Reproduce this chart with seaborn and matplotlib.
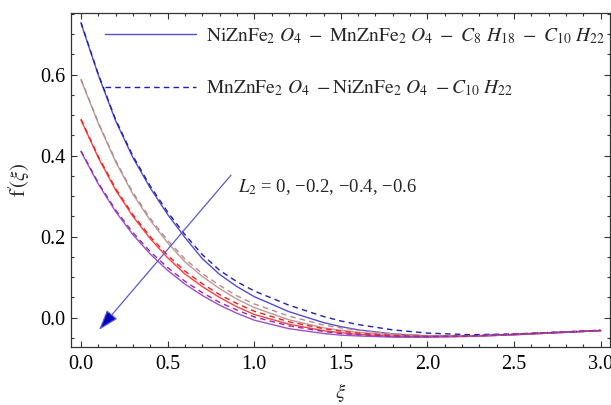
import numpy as np
import pandas as pd
import matplotlib
matplotlib.use("Agg")
import matplotlib.pyplot as plt
from matplotlib.ticker import MultipleLocator, FormatStrFormatter
import seaborn as sns

# ---------------- data ----------------
xi = [0.0, 0.1, 0.2, 0.3, 0.4, 0.5, 0.6, 0.7, 0.8, 0.9, 1.0,
      1.2, 1.4, 1.5, 1.6, 1.8, 2.0, 2.25, 2.5, 2.75, 3.0]

L2_values = ["0", "-0.2", "-0.4", "-0.6"]

# solid: NiZnFe2O4 - MnZnFe2O4 - C8H18 - C10H22
solid_L0 = [0.727, 0.599, 0.486, 0.395, 0.320, 0.255, 0.198, 0.146, 0.107, 0.077, 0.052,
            0.015, -0.012, -0.022, -0.030, -0.040, -0.045, -0.045, -0.041, -0.036, -0.032]
solid_L1 = [0.587, 0.480, 0.385, 0.305, 0.240, 0.185, 0.138, 0.102, 0.072, 0.046, 0.025,
            -0.005, -0.025, -0.031, -0.036, -0.043, -0.046, -0.046, -0.042, -0.037, -0.032]
solid_L2 = [0.488, 0.395, 0.315, 0.250, 0.195, 0.148, 0.108, 0.077, 0.050, 0.027, 0.008,
            -0.016, -0.032, -0.037, -0.041, -0.046, -0.047, -0.046, -0.042, -0.037, -0.032]
solid_L3 = [0.410, 0.330, 0.262, 0.205, 0.157, 0.117, 0.083, 0.055, 0.031, 0.011, -0.006,
            -0.027, -0.039, -0.043, -0.045, -0.048, -0.048, -0.046, -0.042, -0.037, -0.032]

# dashed: MnZnFe2O4 - NiZnFe2O4 - C10H22
dash_L0 = [0.729, 0.601, 0.489, 0.399, 0.325, 0.261, 0.205, 0.156, 0.117, 0.089, 0.066,
           0.031, 0.003, -0.008, -0.017, -0.030, -0.038, -0.042, -0.040, -0.036, -0.031]
dash_L1 = [0.589, 0.482, 0.388, 0.309, 0.245, 0.191, 0.145, 0.109, 0.080, 0.054, 0.034,
           0.004, -0.018, -0.025, -0.031, -0.040, -0.044, -0.045, -0.041, -0.036, -0.031]
dash_L2 = [0.490, 0.398, 0.319, 0.254, 0.200, 0.154, 0.115, 0.084, 0.057, 0.035, 0.016,
           -0.010, -0.027, -0.033, -0.038, -0.044, -0.046, -0.045, -0.041, -0.036, -0.031]
dash_L3 = [0.412, 0.333, 0.266, 0.210, 0.163, 0.124, 0.090, 0.062, 0.038, 0.019, 0.002,
           -0.020, -0.034, -0.039, -0.042, -0.046, -0.047, -0.045, -0.041, -0.036, -0.031]

x_ticks = [0.0, 0.5, 1.0, 1.5, 2.0, 2.5, 3.0]
y_ticks = [0.0, 0.2, 0.4, 0.6]

legend_labels = [
    r"$\mathrm{NiZnFe_2}\ O_4\ -\ \mathrm{MnZnFe_2}\ O_4\ -\ C_8\ H_{18}\ -\ C_{10}\ H_{22}$",
    r"$\mathrm{MnZnFe_2}\ O_4\ -\mathrm{NiZnFe_2}\ O_4\ -C_{10}\ H_{22}$",
]
annotation_text = "$L_2$ = 0, \u22120.2, \u22120.4, \u22120.6"

# ---------------- styling ----------------
sns.set_style("ticks")
plt.rcParams["font.family"] = ["Liberation Serif", "DejaVu Serif"]
plt.rcParams["mathtext.fontset"] = "stix"

solid_colors = ["#5050d0", "#c09898", "#ff4040", "#a050c0"]
dash_colors = ["#2020b0", "#b88a8a", "#f02020", "#8a30b0"]

fig = plt.figure(figsize=(6.11, 4.05), dpi=100)
ax = fig.add_axes([0.1157, 0.1432, 0.8827, 0.8240])

solids = [solid_L0, solid_L1, solid_L2, solid_L3]
dashes = [dash_L0, dash_L1, dash_L2, dash_L3]

for i in range(4):
    sns.lineplot(x=xi, y=solids[i], ax=ax, color=solid_colors[i], lw=1.0)
for i in range(4):
    sns.lineplot(x=xi, y=dashes[i], ax=ax, color=dash_colors[i], lw=1.0,
                 linestyle=(0, (4, 3)))

ax.set_xlim(-0.0595, 3.054)
ax.set_ylim(-0.0723, 0.7516)

ax.xaxis.set_major_locator(plt.FixedLocator(x_ticks))
ax.yaxis.set_major_locator(plt.FixedLocator(y_ticks))
ax.xaxis.set_minor_locator(MultipleLocator(0.1))
ax.yaxis.set_minor_locator(MultipleLocator(0.05))
ax.xaxis.set_major_formatter(FormatStrFormatter("%.1f"))
ax.yaxis.set_major_formatter(FormatStrFormatter("%.1f"))

for s in ax.spines.values():
    s.set_visible(True)
    s.set_color("#333333")
    s.set_linewidth(0.9)

ax.tick_params(which="both", direction="in", top=True, right=True, colors="#333333",
               labelcolor="black", labelsize=14.5, width=0.8)
ax.tick_params(which="major", length=4.5)
ax.tick_params(which="minor", length=2.5)
ax.tick_params(axis="x", pad=6)
ax.tick_params(axis="y", pad=4)

ax.set_xlabel(r"$\xi$", fontsize=15, labelpad=5)
ax.set_ylabel(r"$\mathrm{f}^{\prime}\!(\xi)$", fontsize=15, labelpad=6)

lines = ax.get_lines()
leg = ax.legend(handles=[lines[0], lines[4]], labels=legend_labels,
                loc="upper left", bbox_to_anchor=(105 / 611, 1 - 26 / 405),
                bbox_transform=fig.transFigure, frameon=False, fontsize=14,
                handlelength=4.7, handletextpad=0.5, labelspacing=1.7,
                borderpad=0, borderaxespad=0)
leg.get_lines()[0].set_color("#5050d0")
leg.get_lines()[1].set_color("#2020b0")

ax.annotate("", xy=(0.104, -0.030), xytext=(0.866, 0.352),
            arrowprops=dict(arrowstyle="-|>,head_length=0.9,head_width=0.3",
                            facecolor="#0000c0", edgecolor="#5a5ad0", lw=0.9,
                            mutation_scale=14, shrinkA=0, shrinkB=0))
ax.text(0.906, 0.323, annotation_text, fontsize=13.5, ha="left", va="center")

fig.savefig("out.png", dpi=100)
